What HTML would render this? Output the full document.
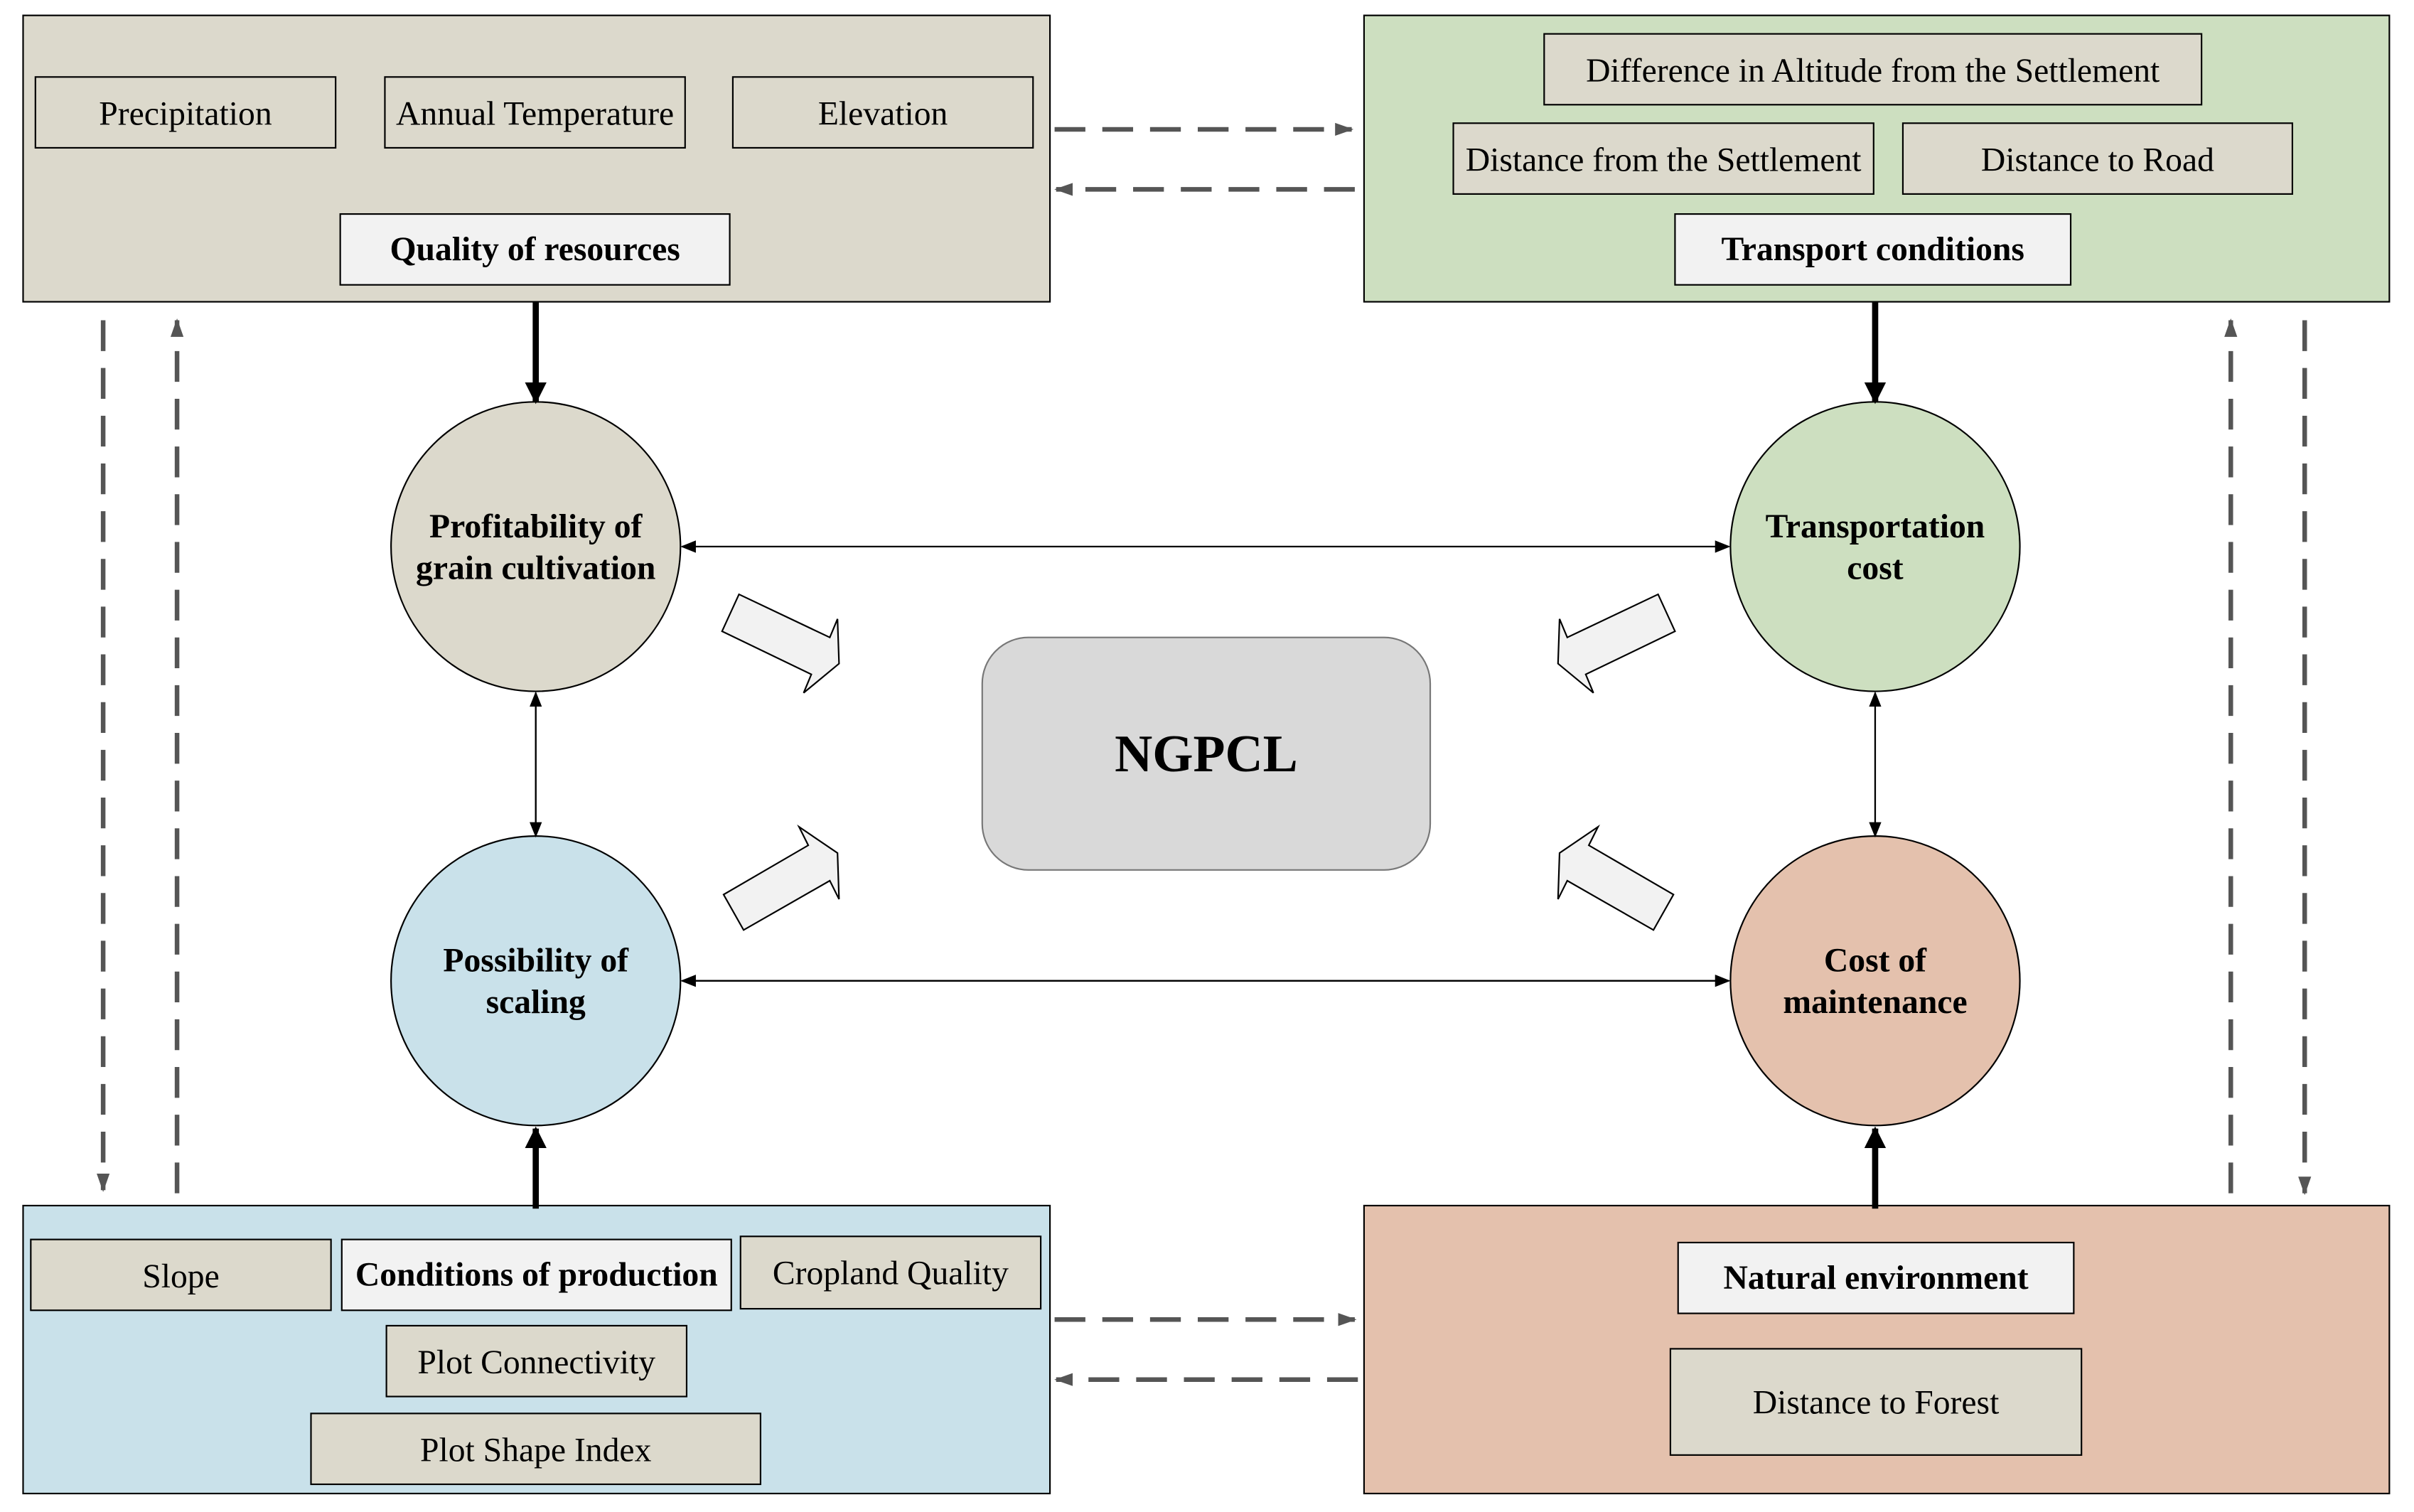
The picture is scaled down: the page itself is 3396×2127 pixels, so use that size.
<!DOCTYPE html>
<html><head><meta charset="utf-8"><style>
html,body{margin:0;padding:0;background:#fff;}
svg{display:block;}
text{font-family:"Liberation Serif",serif;}
</style></head><body>
<svg width="3396" height="2127" viewBox="0 0 1568 982" preserveAspectRatio="none" xmlns="http://www.w3.org/2000/svg">
<defs>
<marker id="ah" viewBox="0 0 10 10" refX="9" refY="5" markerWidth="10" markerHeight="10" markerUnits="userSpaceOnUse" orient="auto"><path d="M0,1 L10,5 L0,9 z" fill="#000"/></marker>
<marker id="ahd" viewBox="0 0 10 10" refX="9" refY="5" markerWidth="12" markerHeight="12" markerUnits="userSpaceOnUse" orient="auto"><path d="M0,1.5 L10,5 L0,8.5 z" fill="#555"/></marker>
<marker id="ahb" viewBox="0 0 10 10" refX="9" refY="5" markerWidth="14" markerHeight="20" markerUnits="userSpaceOnUse" orient="auto"><path d="M0,0 L10,5 L0,10 z" fill="#000"/></marker>
</defs>
<g stroke="#000" stroke-width="1">
<rect x="15" y="10" width="667" height="186" fill="#dcd9cc"/>
<rect x="886" y="10" width="666" height="186" fill="#cddfc0"/>
<rect x="15" y="783" width="667" height="187" fill="#c9e1ea"/>
<rect x="886" y="783" width="666" height="187" fill="#e4c1ad"/>
<g fill="#dcd9cc">
<rect x="23" y="50" width="195" height="46"/>
<rect x="250" y="50" width="195" height="46"/>
<rect x="476" y="50" width="195" height="46"/>
<rect x="1003" y="22" width="427" height="46"/>
<rect x="944" y="80" width="273" height="46"/>
<rect x="1236" y="80" width="253" height="46"/>
<rect x="20" y="805" width="195" height="46"/>
<rect x="481" y="803" width="195" height="47"/>
<rect x="251" y="861" width="195" height="46"/>
<rect x="202" y="918" width="292" height="46"/>
<rect x="1085" y="876" width="267" height="69"/>
</g>
<g fill="#f2f2f2">
<rect x="221" y="139" width="253" height="46"/>
<rect x="1088" y="139" width="257" height="46"/>
<rect x="222" y="805" width="253" height="46"/>
<rect x="1090" y="807" width="257" height="46"/>
</g>
<circle cx="348" cy="355" r="94" fill="#dcd9cc"/>
<circle cx="1218" cy="355" r="94" fill="#cddfc0"/>
<circle cx="348" cy="637" r="94" fill="#c9e1ea"/>
<circle cx="1218" cy="637" r="94" fill="#e4c1ad"/>
</g>
<rect x="638" y="414" width="291" height="151" rx="30" ry="30" fill="#d9d9d9" stroke="#777" stroke-width="1"/>
<g fill="#f2f2f2" stroke="#000" stroke-width="1">
<polygon points="480,386 539,414 544,402 545,431 522,450 527,438 469,410"/>
<polygon points="519,537 544,554 545,584 539,572 483,604 470,581 525,549"/>
<polygon points="1087,386 1028,414 1023,402 1022,431 1045,450 1040,438 1098,410" transform="translate(-10,0)"/>
<polygon points="1048,537 1023,554 1022,584 1028,572 1084,604 1097,581 1042,549" transform="translate(-10,0)"/>
</g>
<g stroke="#000" stroke-width="4">
<line x1="348" y1="196" x2="348" y2="261" marker-end="url(#ahb)"/>
<line x1="1218" y1="196" x2="1218" y2="261" marker-end="url(#ahb)"/>
<line x1="348" y1="785" x2="348" y2="733" marker-end="url(#ahb)"/>
<line x1="1218" y1="785" x2="1218" y2="733" marker-end="url(#ahb)"/>
</g>
<g stroke="#000" stroke-width="1">
<line x1="443" y1="355" x2="1123" y2="355" marker-end="url(#ah)"/>
<line x1="1123" y1="355" x2="443" y2="355" marker-end="url(#ah)"/>
<line x1="443" y1="637" x2="1123" y2="637" marker-end="url(#ah)"/>
<line x1="1123" y1="637" x2="443" y2="637" marker-end="url(#ah)"/>
<line x1="348" y1="543" x2="348" y2="450" marker-end="url(#ah)"/>
<line x1="348" y1="450" x2="348" y2="543" marker-end="url(#ah)"/>
<line x1="1218" y1="543" x2="1218" y2="450" marker-end="url(#ah)"/>
<line x1="1218" y1="450" x2="1218" y2="543" marker-end="url(#ah)"/>
</g>
<g stroke="#555" stroke-width="3" stroke-dasharray="20,11" fill="none">
<line x1="685" y1="84" x2="878" y2="84" marker-end="url(#ahd)"/>
<line x1="880" y1="123" x2="686" y2="123" marker-end="url(#ahd)"/>
<line x1="685" y1="857" x2="880" y2="857" marker-end="url(#ahd)"/>
<line x1="882" y1="896" x2="686" y2="896" marker-end="url(#ahd)"/>
<line x1="67" y1="208" x2="67" y2="773" marker-end="url(#ahd)"/>
<line x1="115" y1="775" x2="115" y2="208" marker-end="url(#ahd)"/>
<line x1="1449" y1="775" x2="1449" y2="208" marker-end="url(#ahd)"/>
<line x1="1497" y1="208" x2="1497" y2="775" marker-end="url(#ahd)"/>
</g>
<g font-size="22" text-anchor="middle" fill="#000">
<text x="120.5" y="81">Precipitation</text>
<text x="347.5" y="81">Annual Temperature</text>
<text x="573.5" y="81">Elevation</text>
<text x="1216.5" y="53">Difference in Altitude from the Settlement</text>
<text x="1080.5" y="111">Distance from the Settlement</text>
<text x="1362.5" y="111">Distance to Road</text>
<text x="117.5" y="836">Slope</text>
<text x="578.5" y="834">Cropland Quality</text>
<text x="348.5" y="892">Plot Connectivity</text>
<text x="348" y="949">Plot Shape Index</text>
<text x="1218.5" y="918">Distance to Forest</text>
<g font-weight="bold">
<text x="347.5" y="169">Quality of resources</text>
<text x="1216.5" y="169">Transport conditions</text>
<text x="348.5" y="835">Conditions of production</text>
<text x="1218.5" y="837">Natural environment</text>
<text x="348" y="349">Profitability of</text>
<text x="348" y="376">grain cultivation</text>
<text x="1218" y="349">Transportation</text>
<text x="1218" y="376">cost</text>
<text x="348" y="631">Possibility of</text>
<text x="348" y="658">scaling</text>
<text x="1218" y="631">Cost of</text>
<text x="1218" y="658">maintenance</text>
<text x="783.5" y="501" font-size="34">NGPCL</text>
</g>
</g>
</svg>
</body></html>
